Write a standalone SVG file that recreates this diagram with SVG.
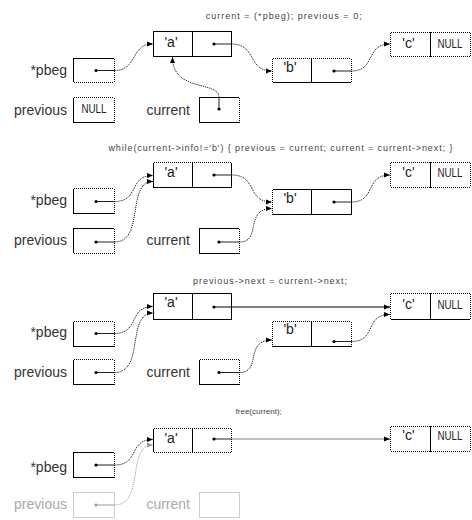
<svg xmlns="http://www.w3.org/2000/svg" width="472" height="520" viewBox="0 0 472 520">
<defs>
<style>
text{font-family:"Liberation Sans",Arial,Helvetica,sans-serif}
.lbl{font-size:14px;text-anchor:end;fill:#333}
.v{font-size:14px;text-anchor:middle;fill:#222}
.nl{font-size:13px;text-anchor:middle;fill:#222}
.ttl{font-size:9px;text-anchor:middle;fill:#444}
.bx{fill:#fff;stroke:#000;stroke-width:1}
.dv{stroke:#000;stroke-width:1;fill:none}
.dt{fill:none;stroke:#fff;stroke-width:1;stroke-dasharray:1 1}
.stem{stroke:#222;stroke-width:1;fill:none}
.dl{fill:none;stroke:#000;stroke-width:1;stroke-dasharray:1 1;marker-end:url(#ah)}
.sl{fill:none;stroke:#000;stroke-width:1;marker-end:url(#ah)}
.dot{fill:#000}
.gbx{fill:#fff;stroke:#999;stroke-width:1;stroke-dasharray:1 1}
.glbl{font-size:14px;text-anchor:end;fill:#aaa}
.gstem{stroke:#999;stroke-width:1;fill:none}
.gdl{fill:none;stroke:#999;stroke-width:1;stroke-dasharray:1 1;marker-end:url(#ahg)}
.gdot{fill:#999}
</style>
<marker id="ah" viewBox="0 0 6 6" refX="6" refY="3" markerWidth="6" markerHeight="6" markerUnits="userSpaceOnUse" orient="auto"><path d="M0,0.5 L6,3 L0,5.5 z" fill="#000"/></marker>
<marker id="ahg" viewBox="0 0 6 6" refX="6" refY="3" markerWidth="6" markerHeight="6" markerUnits="userSpaceOnUse" orient="auto"><path d="M0,0.5 L6,3 L0,5.5 z" fill="#999"/></marker>
</defs>
<rect width="472" height="520" fill="#fff"/>

<!-- Titles -->
<g id="titles">
<text class="ttl" x="283.7" y="19" textLength="156">current = (*pbeg); previous = 0;</text>
<text class="ttl" x="280.4" y="151" textLength="344">while(current-&gt;info!='b') { previous = current; current = current-&gt;next; }</text>
<text class="ttl" x="270" y="284" textLength="154">previous-&gt;next = current-&gt;next;</text>
<text class="ttl" x="258.7" y="414" style="font-size:8px">free(current);</text>
</g>

<!-- Panel 1 -->
<g id="p1-a"><rect class="bx" x="153.5" y="31.5" width="78" height="25"/><path class="dv" d="M192.5,31 V57"/><text class="v" x="171" y="47">'a'</text></g>
<g id="p1-pbeg"><text class="lbl" x="67" y="75">*pbeg</text><rect class="bx" x="73.5" y="58.5" width="41" height="24"/><path class="dt" d="M114.5,58 V83 M73,82.5 H115"/></g>
<g id="p1-previous"><text class="lbl" x="67" y="115">previous</text><rect class="bx" x="73.5" y="97.5" width="41" height="25"/><path class="dt" d="M73,97.5 H115 M114.5,97 V123"/><text class="nl" x="94" y="112.5" textLength="25" lengthAdjust="spacingAndGlyphs">NULL</text></g>
<g id="p1-current"><text class="lbl" x="190" y="115">current</text><rect class="bx" x="199.5" y="97.5" width="40" height="25"/><path class="dt" d="M239.5,97 V123"/></g>
<g id="p1-b"><rect class="bx" x="272.5" y="58.5" width="79" height="24"/><path class="dt" d="M272,58.5 H352 M272.5,58 V83 M351.5,58 V83"/><path class="dv" d="M311.5,58 V83"/><text class="v" x="290" y="72">'b'</text></g>
<g id="p1-c"><rect class="bx" x="390.5" y="32.5" width="80" height="24"/><path class="dt" d="M390,32.5 H471 M390.5,32 V57 M470.5,32 V57 M390,56.5 H471"/><path class="dv" d="M430.5,32 V57"/><text class="v" x="408.5" y="47.7">'c'</text><text class="nl" x="450" y="47.7" textLength="25" lengthAdjust="spacingAndGlyphs">NULL</text></g>

<!-- Panel 2 -->
<g id="p2-a"><rect class="bx" x="153.5" y="162.5" width="78" height="25"/><path class="dt" d="M153,162.5 H232"/><path class="dv" d="M192.5,162 V188"/><text class="v" x="171" y="177">'a'</text></g>
<g id="p2-pbeg"><text class="lbl" x="67" y="205">*pbeg</text><rect class="bx" x="73.5" y="188.5" width="41" height="25"/><path class="dt" d="M73,188.5 H115 M114.5,188 V214"/></g>
<g id="p2-previous"><text class="lbl" x="67" y="245">previous</text><rect class="bx" x="73.5" y="228.5" width="41" height="25"/><path class="dt" d="M114.5,228 V254 M73,253.5 H115"/></g>
<g id="p2-current"><text class="lbl" x="190" y="245">current</text><rect class="bx" x="199.5" y="228.5" width="40" height="25"/><path class="dt" d="M239.5,228 V254"/></g>
<g id="p2-b"><rect class="bx" x="272.5" y="189.5" width="79" height="25"/><path class="dt" d="M272.5,189 V215"/><path class="dv" d="M311.5,189 V215"/><text class="v" x="290" y="203">'b'</text></g>
<g id="p2-c"><rect class="bx" x="390.5" y="162.5" width="80" height="25"/><path class="dt" d="M390,162.5 H471 M390.5,162 V188 M470.5,162 V188 M390,187.5 H471"/><path class="dv" d="M430.5,162 V188"/><text class="v" x="408.5" y="176.5">'c'</text><text class="nl" x="450" y="176.5" textLength="25" lengthAdjust="spacingAndGlyphs">NULL</text></g>

<!-- Panel 3 -->
<g id="p3-a"><rect class="bx" x="153.5" y="293.5" width="78" height="26"/><path class="dv" d="M192.5,293 V320"/><text class="v" x="171" y="307">'a'</text></g>
<g id="p3-pbeg"><text class="lbl" x="67" y="337">*pbeg</text><rect class="bx" x="73.5" y="321.5" width="41" height="25"/><path class="dt" d="M73,321.5 H115 M114.5,321 V347"/></g>
<g id="p3-previous"><text class="lbl" x="67" y="377">previous</text><rect class="bx" x="73.5" y="359.5" width="41" height="25"/><path class="dt" d="M73,359.5 H115 M114.5,359 V385"/></g>
<g id="p3-current"><text class="lbl" x="190" y="377">current</text><rect class="bx" x="199.5" y="359.5" width="40" height="25"/><path class="dt" d="M199,359.5 H240 M239.5,359 V385"/></g>
<g id="p3-b"><rect class="bx" x="272.5" y="321.5" width="79" height="25"/><path class="dt" d="M272,321.5 H352 M272.5,321 V347 M351.5,321 V347"/><path class="dv" d="M311.5,321 V347"/><text class="v" x="290" y="334">'b'</text></g>
<g id="p3-c"><rect class="bx" x="390.5" y="293.5" width="80" height="26"/><path class="dt" d="M390,293.5 H471 M390.5,293 V320 M470.5,293 V320"/><path class="dv" d="M430.5,293 V320"/><text class="v" x="408.5" y="309">'c'</text><text class="nl" x="450" y="309" textLength="25" lengthAdjust="spacingAndGlyphs">NULL</text></g>

<!-- Panel 4 -->
<g id="p4-a"><rect class="bx" x="153.5" y="428.5" width="78" height="24"/><path class="dt" d="M153,428.5 H232 M153,452.5 H232 M231.5,428 V453"/><path class="dv" d="M192.5,428 V453"/><text class="v" x="171" y="442.5">'a'</text></g>
<g id="p4-pbeg"><text class="lbl" x="67" y="471.5">*pbeg</text><rect class="bx" x="73.5" y="452.5" width="41" height="25"/><path class="dt" d="M114.5,452 V478"/></g>
<g id="p4-previous"><text class="glbl" x="67" y="508.5">previous</text><rect class="gbx" x="73.5" y="492.5" width="41" height="25"/></g>
<g id="p4-current"><text class="glbl" x="190" y="508.5">current</text><rect class="gbx" x="199.5" y="492.5" width="40" height="25"/></g>
<g id="p4-c"><rect class="bx" x="390.5" y="426.5" width="80" height="25"/><path class="dt" d="M390,426.5 H471 M390.5,426 V452 M470.5,426 V452 M390,451.5 H471"/><path class="dv" d="M430.5,426 V452"/><text class="v" x="408.5" y="440">'c'</text><text class="nl" x="450" y="440" textLength="25" lengthAdjust="spacingAndGlyphs">NULL</text></g>

<!-- Connectors -->
<g id="connectors">
<!-- panel 1 -->
<path class="stem" d="M96,70.5 H114.5"/><circle class="dot" cx="96" cy="70.5" r="1.6"/>
<path class="dl" d="M114.5,70.5 C138,70.5 130,44 153,44"/>
<path class="stem" d="M214,44 H231.5"/><circle class="dot" cx="214" cy="44" r="1.6"/>
<path class="dl" d="M231.5,44 C257,44 247,71 272,71"/>
<path class="stem" d="M334,71 H351.5"/><circle class="dot" cx="334" cy="71" r="1.6"/>
<path class="dl" d="M351.5,71 C376,71 365,44 390,44"/>
<path class="stem" d="M219,109 V97.5"/><circle class="dot" cx="219" cy="109" r="1.6"/>
<path class="dl" d="M219,97.5 C219,80 172.5,93 172.5,57"/>
<!-- panel 2 -->
<path class="stem" d="M96,201.5 H114.5"/><circle class="dot" cx="96" cy="201.5" r="1.6"/>
<path class="dl" d="M114.5,201.5 C140,201.5 128,175.5 153,175.5"/>
<path class="stem" d="M96,242 H114.5"/><circle class="dot" cx="96" cy="242" r="1.6"/>
<path class="dl" d="M114.5,242 C145,242 126,181.5 153,181.5"/>
<path class="stem" d="M214,175 H231.5"/><circle class="dot" cx="214" cy="175" r="1.6"/>
<path class="dl" d="M231.5,175 C258,175 246,202 272,202"/>
<path class="stem" d="M219,242 H239.5"/><circle class="dot" cx="219" cy="242" r="1.6"/>
<path class="dl" d="M239.5,242 C262,242 244,208.5 272,208.5"/>
<path class="stem" d="M334,202 H351.5"/><circle class="dot" cx="334" cy="202" r="1.6"/>
<path class="dl" d="M351.5,202 C376,202 365,175 390,175"/>
<!-- panel 3 -->
<path class="stem" d="M96,333.5 H114.5"/><circle class="dot" cx="96" cy="333.5" r="1.6"/>
<path class="dl" d="M114.5,333.5 C140,333.5 128,306.5 153,306.5"/>
<path class="stem" d="M96,372.5 H114.5"/><circle class="dot" cx="96" cy="372.5" r="1.6"/>
<path class="dl" d="M114.5,372.5 C145,372.5 126,313 153,313"/>
<path class="sl" d="M214,307 H390"/><circle class="dot" cx="214" cy="307" r="1.6"/>
<path class="stem" d="M334,341.5 H351.5"/><circle class="dot" cx="334" cy="341.5" r="1.6"/>
<path class="dl" d="M351.5,341.5 C377,341.5 364,314.5 390,314.5"/>
<path class="stem" d="M219,372.5 H239.5"/><circle class="dot" cx="219" cy="372.5" r="1.6"/>
<path class="dl" d="M239.5,372.5 C262,372.5 244,340 272,340"/>
<!-- panel 4 -->
<path class="stem" d="M96,465 H114.5"/><circle class="dot" cx="96" cy="465" r="1.6"/>
<path class="dl" d="M114.5,465 C140,465 128,439.5 153,439.5"/>
<path class="gstem" d="M96,505 H114.5"/><circle class="gdot" cx="96" cy="505" r="1.6"/>
<path class="gdl" d="M114.5,505 C145,505 126,445 153,445"/>
<path class="stem" d="M214,439 H231.5"/><circle class="dot" cx="214" cy="439" r="1.6"/>
<path class="dl" d="M231.5,439 H390"/>
</g>
</svg>
